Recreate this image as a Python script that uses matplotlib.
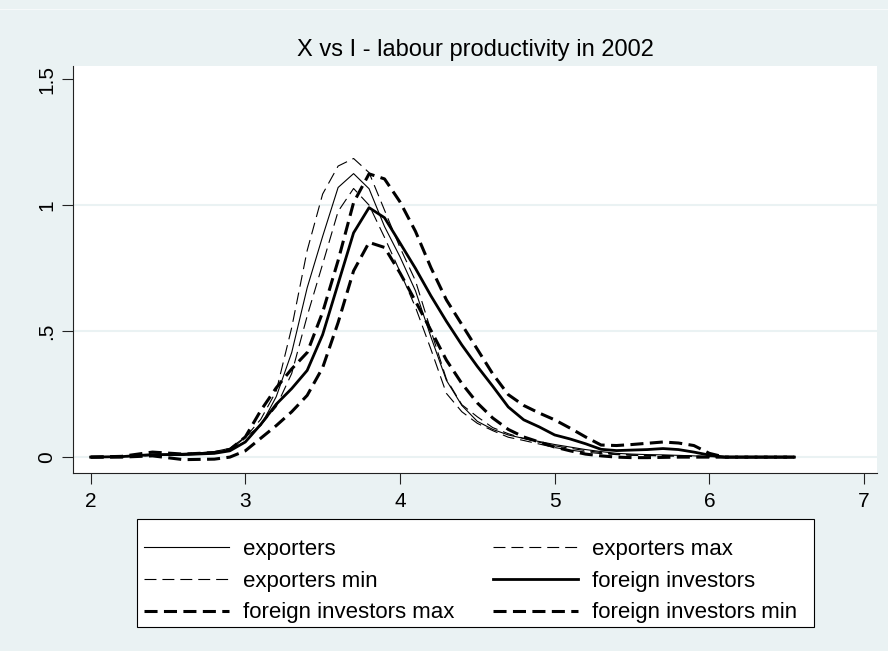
import matplotlib
matplotlib.use("Agg")
import matplotlib.pyplot as plt
from matplotlib.lines import Line2D
from matplotlib.patches import Rectangle

plt.rcParams['font.family'] = ['Liberation Sans', 'DejaVu Sans']
plt.rcParams['lines.scale_dashes'] = False

# kernel density values
x = [2.0, 2.2, 2.4, 2.6, 2.8, 2.9, 3.0, 3.1, 3.2, 3.3, 3.4, 3.5, 3.6, 3.7, 3.8, 3.9,
     4.0, 4.1, 4.2, 4.3, 4.4, 4.5, 4.6, 4.7, 4.8, 4.9, 5.0, 5.1, 5.2, 5.3, 5.4, 5.5,
     5.6, 5.7, 5.8, 5.9, 6.0, 6.1, 6.3, 6.55]

exporters = [0, 0.002, 0.008, 0.012, 0.022, 0.035, 0.08, 0.125, 0.24, 0.415, 0.672, 0.876,
             1.07, 1.125, 1.065, 0.915, 0.795, 0.66, 0.477, 0.305, 0.205, 0.142, 0.11, 0.088,
             0.074, 0.062, 0.05, 0.04, 0.03, 0.022, 0.015, 0.012, 0.01, 0.009, 0.007, 0.005,
             0.002, 0, 0, 0]
exporters_max = [0, 0.002, 0.01, 0.015, 0.02, 0.028, 0.078, 0.15, 0.262, 0.514, 0.82, 1.044,
                 1.155, 1.185, 1.129, 0.98, 0.832, 0.70, 0.502, 0.31, 0.208, 0.16, 0.117, 0.093,
                 0.074, 0.059, 0.045, 0.035, 0.026, 0.018, 0.012, 0.009, 0.007, 0.006, 0.005,
                 0.004, 0.002, 0, 0, 0]
exporters_min = [0, 0.001, 0.006, 0.01, 0.018, 0.03, 0.06, 0.127, 0.20, 0.332, 0.56, 0.766,
                 0.975, 1.066, 1.0, 0.872, 0.736, 0.595, 0.428, 0.253, 0.18, 0.134, 0.105, 0.079,
                 0.066, 0.052, 0.038, 0.028, 0.02, 0.014, 0.01, 0.007, 0.006, 0.005, 0.004,
                 0.003, 0.001, 0, 0, 0]
foreign = [0, 0.002, 0.01, 0.01, 0.015, 0.025, 0.06, 0.13, 0.21, 0.272, 0.344, 0.486,
           0.688, 0.89, 0.99, 0.95, 0.85, 0.749, 0.64, 0.539, 0.445, 0.36, 0.281, 0.199,
           0.148, 0.12, 0.088, 0.072, 0.053, 0.031, 0.026, 0.028, 0.03, 0.034, 0.03, 0.02,
           0.008, 0, 0, 0]
foreign_max = [0, 0.003, 0.02, 0.012, 0.018, 0.03, 0.08, 0.185, 0.275, 0.35, 0.415, 0.575,
               0.78, 1.01, 1.124, 1.104, 1.013, 0.896, 0.752, 0.624, 0.526, 0.428, 0.33, 0.248,
               0.205, 0.175, 0.148, 0.115, 0.08, 0.048, 0.046, 0.05, 0.055, 0.06, 0.056, 0.046,
               0.015, 0, 0, 0]
foreign_min = [0, 0, 0.005, -0.01, -0.008, 0.0, 0.025, 0.075, 0.125, 0.18, 0.245, 0.355,
               0.534, 0.739, 0.852, 0.832, 0.731, 0.619, 0.503, 0.385, 0.292, 0.215, 0.155, 0.11,
               0.08, 0.06, 0.04, 0.025, 0.012, 0.005, 0.0, -0.002, -0.002, -0.001, 0, 0,
               0, 0, 0, 0]

labels = ["exporters", "exporters max", "exporters min",
          "foreign investors", "foreign investors max", "foreign investors min"]
series = [exporters, exporters_max, exporters_min, foreign, foreign_max, foreign_min]

thin_dash = (0, (8.6, 4.3))
thick_dash = (0, (9.4, 4.6))
styles = [('-', 0.8), (thin_dash, 0.8), (thin_dash, 0.8),
          ('-', 2.0), (thick_dash, 2.2), (thick_dash, 2.2)]

bg = '#EAF2F3'
W, H = 888, 651
fig = plt.figure(figsize=(8.88, 6.51), dpi=100)
fig.patch.set_facecolor(bg)
ax = fig.add_axes([73/W, 1-473/H, (877-73)/W, (473-66)/H])
ax.set_facecolor('white')

handles = []
for y, lab, (ls, lw) in zip(series, labels, styles):
    h, = ax.plot(x, y, color='black', linestyle=ls, linewidth=lw, label=lab)
    handles.append(h)

ax.set_xlim(1.886, 7.084)
ax.set_ylim(-0.063, 1.552)
ax.set_xticks([2, 3, 4, 5, 6, 7])
ax.set_yticks([0, 0.5, 1, 1.5])
ax.set_yticklabels(['0', '.5', '1', '1.5'], rotation=90, va='center')
ax.tick_params(axis='both', labelsize=15, length=8, width=0.8, color='#222222')
ax.tick_params(axis='x', pad=6)
ax.tick_params(axis='y', pad=4)
for s in ['top', 'right']:
    ax.spines[s].set_visible(False)
for s in ['left', 'bottom']:
    ax.spines[s].set_linewidth(0.8)
    ax.spines[s].set_color('#222222')
ax.yaxis.grid(True, color=bg, linewidth=1.5)
ax.yaxis.get_gridlines()[-1].set_visible(False)
ax.set_axisbelow(True)

ax.set_title("X vs I - labour productivity in 2002", fontsize=17, pad=7)

# legend frame drawn separately so the entries can sit close to its left edge
fig.add_artist(Rectangle((137/W, 1-627/H), (814-137)/W, (627-519)/H,
                         transform=fig.transFigure, facecolor='white',
                         edgecolor='black', linewidth=0.8))
order = [0, 2, 4, 1, 3, 5]
leg = fig.legend([handles[i] for i in order], [labels[i] for i in order], ncol=2,
                 loc='upper left', bbox_to_anchor=(144/W, 1-539/H),
                 borderaxespad=0, borderpad=0, frameon=False, fontsize=16,
                 handlelength=3.83, handletextpad=0.63, columnspacing=1.75,
                 labelspacing=0.48)

fig.add_artist(Line2D([0, 1], [1-9/H, 1-9/H], color='#F6F9FA', linewidth=0.8))

fig.savefig("out.png", dpi=100, facecolor=bg)
